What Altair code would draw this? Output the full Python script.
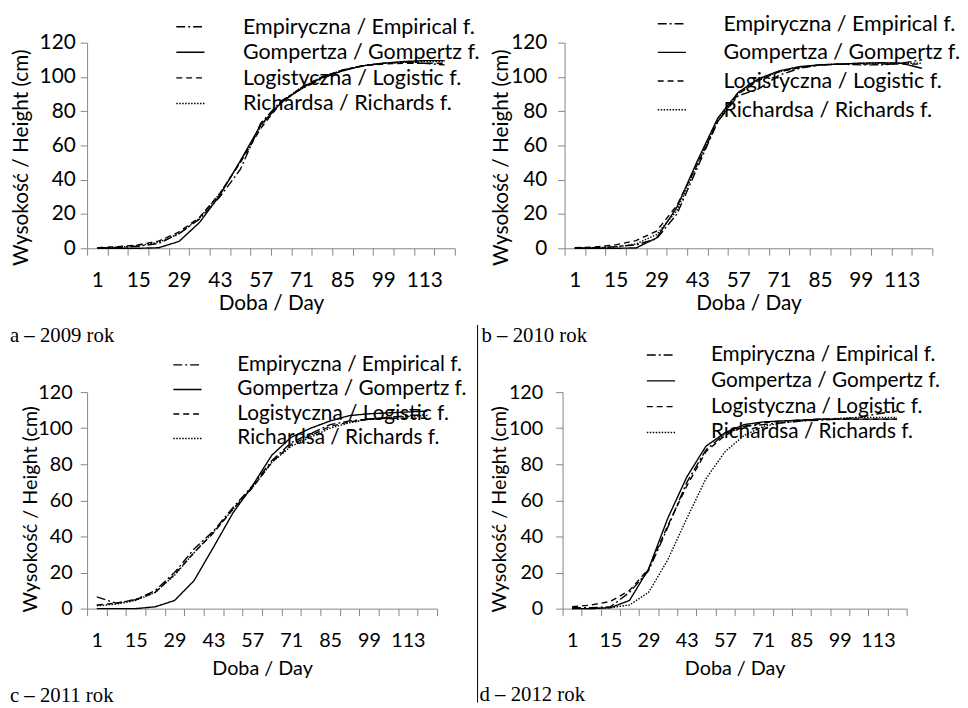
import altair as alt
import pandas as pd

days = [1, 8, 15, 22, 29, 36, 43, 50, 57, 64, 71, 78, 85, 92, 99, 106, 113, 120]
series_names = ["Empiryczna / Empirical f.", "Gompertza / Gompertz f.",
                "Logistyczna / Logistic f.", "Richardsa / Richards f."]
x_labels = ["1", "15", "29", "43", "57", "71", "85", "99", "113"]
y_ticks = [0, 20, 40, 60, 80, 100, 120]
captions = ["a \u2013 2009 rok", "b \u2013 2010 rok", "c \u2013 2011 rok", "d \u2013 2012 rok"]

# 2009
emp_a = [0.3, 0.5, 1.2, 2.8, 8.5, 17, 30, 46, 73, 86, 93, 99, 104, 106.5, 108, 108.5, 108, 107]
gom_a = [0, 0, 0, 0.3, 4, 15, 31, 51, 72, 85, 93.5, 99.5, 103.5, 106.5, 108, 109, 109.5, 109.5]
log_a = [0.4, 0.9, 2, 4.2, 9.5, 18, 32, 50, 70, 85, 94, 100, 104, 106.5, 107.5, 108, 108, 108]
ric_a = [0.2, 0.6, 1.5, 3.5, 8.5, 17.5, 32, 50.5, 71, 85.5, 94, 100, 104, 106.5, 108, 108.5, 109, 109]
# 2010
emp_b = [0.2, 0.3, 1, 2, 5.5, 20, 47, 74, 89, 93, 101, 105, 107, 107.5, 107, 107, 108, 110]
gom_b = [0, 0, 0, 0.2, 6, 24, 51, 76, 91, 99, 103.5, 106, 107, 107.5, 108, 108.3, 108, 105]
log_b = [0.3, 0.8, 2, 4.5, 10, 25, 49, 74, 90, 98, 103, 105.5, 107, 107.5, 107.5, 107.5, 107.5, 107.5]
ric_b = [0, 0.2, 0.8, 2.5, 8, 22, 49, 75, 90.5, 98.5, 103, 105.5, 107, 107.5, 108, 108, 108, 108]
# 2011
emp_c = [6.5, 3, 5, 10, 20, 33, 43, 56, 68, 82, 92, 97, 102, 104, 105, 106, 107, 107.5]
gom_c = [0, 0, 0, 1, 4.5, 15.5, 34, 53, 68, 85, 95, 100, 104, 107, 108, 108.5, 109, 109.5]
log_c = [2, 3, 5, 9, 19, 31, 42, 55, 67, 81, 91, 96, 101, 103.5, 105, 105.5, 105.5, 105.5]
ric_c = [1.5, 2.5, 4.5, 9, 18.5, 31, 42.5, 55, 67, 81, 90, 95, 100, 103, 105, 106, 106.5, 107]
# 2012
emp_d = [0.5, 0.5, 1, 9, 21, 45, 70, 88, 97, 101, 102, 103, 104, 104.5, 105, 106, 108, 109.5]
gom_d = [0, 0, 0.5, 4.5, 22, 50, 73, 90, 97.5, 102, 103.5, 104, 104.5, 105, 105, 105, 105, 105]
log_d = [1, 2, 4, 10, 22, 46, 68, 87, 96, 101, 103, 104, 104.5, 105, 105, 105, 105, 105]
ric_d = [0, 0, 0.5, 2, 9, 27, 50, 72, 87, 96, 101, 103, 104, 105, 105.5, 106, 106, 106]

FONT = "Lato"
GRAY = "#868686"
dash_range = [[9, 3, 2, 3], [1, 0], [6, 4], [1.5, 1.5]]
half = 3.5
boundaries = [d - half for d in days] + [days[-1] + half]
lab_list = ",".join("'%s'" % s for s in x_labels)
label_expr = ("indexof([%s], toString(datum.value + %s)) >= 0 ? toString(datum.value + %s) : ''"
              % (lab_list, half, half))
SYM_LEN = 57.0
SYM_SIZE = (SYM_LEN / 10.0) ** 2


def panel(vals, w, h, fs, lfs, ylp, ytx, yty, xlp, xtp, lx, ly, rowpad, lab_gap,
          caption, cdx, coff, divider=None):
    rows = []
    for name, vs in zip(series_names, vals):
        for d, v in zip(days, vs):
            rows.append({"day": d, "value": v, "series": name})
    df = pd.DataFrame(rows)
    base = alt.Chart(df).mark_line(color="black", strokeWidth=1.4).encode(
        x=alt.X("day:Q",
                scale=alt.Scale(domain=[boundaries[0], boundaries[-1]], nice=False, zero=False),
                axis=alt.Axis(values=boundaries, labelExpr=label_expr, labelOffset=w / len(days) / 2,
                              labelFlush=False, labelOverlap=False, tickSize=7, tickColor=GRAY,
                              domainColor=GRAY, labelFont=FONT, labelFontSize=fs, labelColor="black",
                              labelPadding=xlp, title="Doba / Day", titleFont=FONT, titleFontSize=fs,
                              titleFontWeight="normal", titleColor="black", titlePadding=xtp, grid=False)),
        y=alt.Y("value:Q", scale=alt.Scale(domain=[0, 120], nice=False),
                axis=alt.Axis(values=y_ticks, tickSize=7, tickColor=GRAY, domainColor=GRAY,
                              labelFont=FONT, labelFontSize=fs, labelColor="black", labelPadding=ylp,
                              title="Wysoko\u015b\u0107 / Height (cm)", titleFont=FONT, titleFontSize=fs,
                              titleFontWeight="normal", titleColor="black", titleX=ytx, titleY=yty,
                              titleBaseline="middle", titleAlign="center", titleAngle=270, grid=False)),
        strokeDash=alt.StrokeDash("series:N", sort=series_names,
                                  scale=alt.Scale(domain=series_names, range=dash_range),
                                  legend=alt.Legend(orient="none", legendX=lx, legendY=ly, title=None,
                                                    symbolType="M-5,0H5", symbolSize=SYM_SIZE,
                                                    symbolOffset=SYM_LEN / 2 - lfs / 2,
                                                    symbolStrokeWidth=1.4, symbolStrokeColor="black",
                                                    labelFont=FONT, labelFontSize=lfs, labelColor="black",
                                                    labelOffset=SYM_LEN + lab_gap - lfs, labelLimit=500,
                                                    rowPadding=rowpad, padding=0)),
        order=alt.Order("day:Q"),
    )
    ch = base
    if divider is not None:
        rule = alt.Chart(pd.DataFrame({"k": [0]})).mark_rule(color="black", strokeWidth=1).encode(
            x=alt.value(divider[0]), y=alt.value(divider[1]), y2=alt.value(divider[2]))
        ch = alt.layer(base, rule)
    return ch.properties(
        width=w, height=h,
        title=alt.TitleParams(text=caption, orient="bottom", anchor="start", frame="group",
                              dx=cdx, offset=coff, font="Liberation Serif", fontSize=21,
                              fontWeight="normal", color="black"))


pa = panel([emp_a, gom_a, log_a, ric_a], 372, 208, 21, 21.7, 5, -66, 116, 15, 2,
           76, -27, 2.9, 7, captions[0], -78, 12)
pb = panel([emp_b, gom_b, log_b, ric_b], 372, 208, 21, 21.7, 11, -64, 116, 15, 2,
           80, -30, 6.0, 6, captions[1], -84, 12)
pc = panel([emp_c, gom_c, log_c, ric_c], 354, 219, 20, 21, 8, -57, 118, 15, 9,
           73, -38, 2.8, 4, captions[2], -78, 6)
pd_ = panel([emp_d, gom_d, log_d, ric_d], 348, 219, 20, 21, 13, -63.5, 118, 15, 9,
            71, -48, 4.1, 4, captions[3], -84, -19.5, divider=(-86, -68, 314))

row1 = alt.hconcat(pa, pb, spacing=111, bounds="flush").resolve_scale(
    strokeDash="independent").resolve_legend(strokeDash="independent")
row2 = alt.hconcat(pc, pd_, spacing=127, bounds="flush").resolve_scale(
    strokeDash="independent").resolve_legend(strokeDash="independent")
chart = alt.vconcat(row1, row2, spacing=353.5, bounds="flush").resolve_scale(
    strokeDash="independent").resolve_legend(strokeDash="independent").properties(
    padding={"left": 2, "top": 1, "right": 0, "bottom": 0}
).configure_view(stroke=None)

chart.save("out.html", embed_options={"renderer": "svg", "actions": False})
